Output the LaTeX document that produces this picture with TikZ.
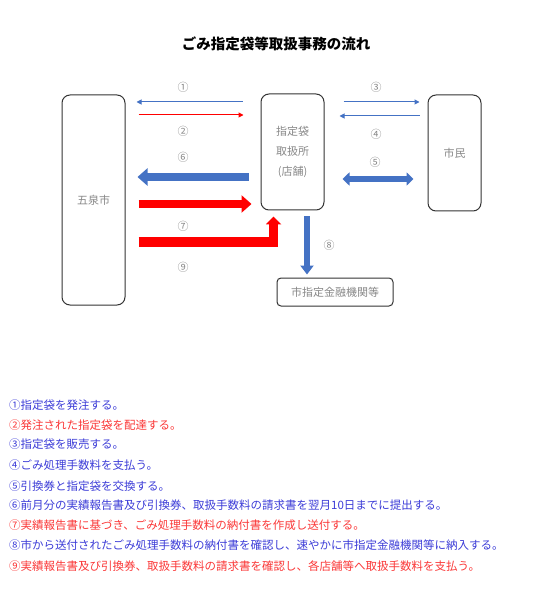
\documentclass[tikz,border=0pt]{standalone}
\usepackage{fontspec}
\setmainfont{Noto Sans CJK JP}
\usetikzlibrary{arrows.meta}

\definecolor{mblue}{RGB}{68,114,196}
\definecolor{mred}{RGB}{255,0,0}
\definecolor{tblue}{RGB}{60,60,215}
\definecolor{tred}{RGB}{250,55,55}
\definecolor{lgray}{RGB}{135,135,135}

\begin{document}
\begin{tikzpicture}[x=1pt,y=-1pt]
\tikzstyle{box}=[draw=black!80, line width=1pt, rounded corners=8pt, text=lgray, font=\fontsize{11}{20}\selectfont, align=center, inner sep=0pt]
\tikzstyle{num}=[text=lgray, font=\fontsize{11}{13}\selectfont, inner sep=0pt]
\tikzstyle{thinarrow}=[line width=1pt, -{Triangle[length=5pt,width=5pt]}]
\tikzstyle{note}=[anchor=west, inner sep=0pt, font=\fontsize{11.5}{13}\selectfont]

\useasboundingbox (0,0) rectangle (547,609);

\draw (276,44) node[font=\bfseries\fontsize{14.5}{16}\selectfont] (title) {ごみ指定袋等取扱事務の流れ};

\draw (93.5,200) node[box, minimum width=63pt, minimum height=210pt] (city) {五泉市};
\draw (292.5,152) node[box, minimum width=63pt, minimum height=116pt] (shop) {指定袋\\取扱所\\(店舗)};
\draw (454.5,153) node[box, minimum width=53pt, minimum height=116pt] (citizen) {市民};
\draw (335,292) node[box, rounded corners=4pt, minimum width=116pt, minimum height=28pt] (bank) {市指定金融機関等};

\coordinate (r1) at (0,102);
\coordinate (r2) at (0,115);
\coordinate (r4) at (0,116);
\coordinate (r5) at (0,179);
\coordinate (r6) at (0,177);
\coordinate (r7) at (0,204);
\coordinate (r9) at (0,242);
\coordinate (s8) at ([xshift=14.5pt]shop.south);
\coordinate (s7) at ([xshift=-19pt]shop.south);

\draw[thinarrow, mblue, shorten <=18pt, shorten >=11pt] (shop.west |- r1) -- (city.east |- r1);
\draw[thinarrow, mred, shorten <=13pt, shorten >=17pt] (city.east |- r2) -- (shop.west |- r2);
\draw[thinarrow, mblue, shorten <=19pt, shorten >=8pt] (shop.east |- r1) -- (citizen.west |- r1);
\draw[thinarrow, mblue, shorten <=8pt, shorten >=15pt] (citizen.west |- r4) -- (shop.east |- r4);
\draw[mblue, line width=6pt, {Triangle[length=7pt,width=13pt]}-{Triangle[length=7pt,width=13pt]}, shorten <=18pt, shorten >=14pt] (shop.east |- r5) -- (citizen.west |- r5);
\draw[mblue, line width=8pt, -{Triangle[length=10pt,width=17pt]}, shorten <=12pt, shorten >=12pt] (shop.west |- r6) -- (city.east |- r6);
\draw[mred, line width=8pt, -{Triangle[length=10pt,width=17pt]}, shorten <=13pt, shorten >=9pt] (city.east |- r7) -- (shop.west |- r7);
\draw[mred, line width=9pt, line join=miter, -{Triangle[length=8pt,width=15pt]}, shorten <=13pt, shorten >=6pt] (city.east |- r9) -| (s7);
\draw[mblue, line width=6pt, -{Triangle[length=9pt,width=13pt]}, shorten <=6pt, shorten >=3pt] (s8) -- (s8 |- bank.north);

\draw (183,87) node[num] (n1) {①};
\draw (183,131) node[num] (n2) {②};
\draw (376,87) node[num] (n3) {③};
\draw (376,134) node[num] (n4) {④};
\draw (375,162) node[num] (n5) {⑤};
\draw (183,157) node[num] (n6) {⑥};
\draw (183,226) node[num] (n7) {⑦};
\draw (329,245) node[num] (n8) {⑧};
\draw (183,267) node[num] (n9) {⑨};

\draw (9,405) node[note, text=tblue] (t1) {①指定袋を発注する。};
\draw (9,425) node[note, text=tred] (t2) {②発注された指定袋を配達する。};
\draw (9,444) node[note, text=tblue] (t3) {③指定袋を販売する。};
\draw (9,465) node[note, text=tblue] (t4) {④ごみ処理手数料を支払う。};
\draw (9,486) node[note, text=tblue] (t5) {⑤引換券と指定袋を交換する。};
\draw (9,505) node[note, text=tblue] (t6) {⑥前月分の実績報告書及び引換券、取扱手数料の請求書を翌月10日までに提出する。};
\draw (9,525) node[note, text=tred] (t7) {⑦実績報告書に基づき、ごみ処理手数料の納付書を作成し送付する。};
\draw (9,545) node[note, text=tblue] (t8) {⑧市から送付されたごみ処理手数料の納付書を確認し、速やかに市指定金融機関等に納入する。};
\draw (9,566) node[note, text=tred] (t9) {⑨実績報告書及び引換券、取扱手数料の請求書を確認し、各店舗等へ取扱手数料を支払う。};
\end{tikzpicture}
\end{document}
